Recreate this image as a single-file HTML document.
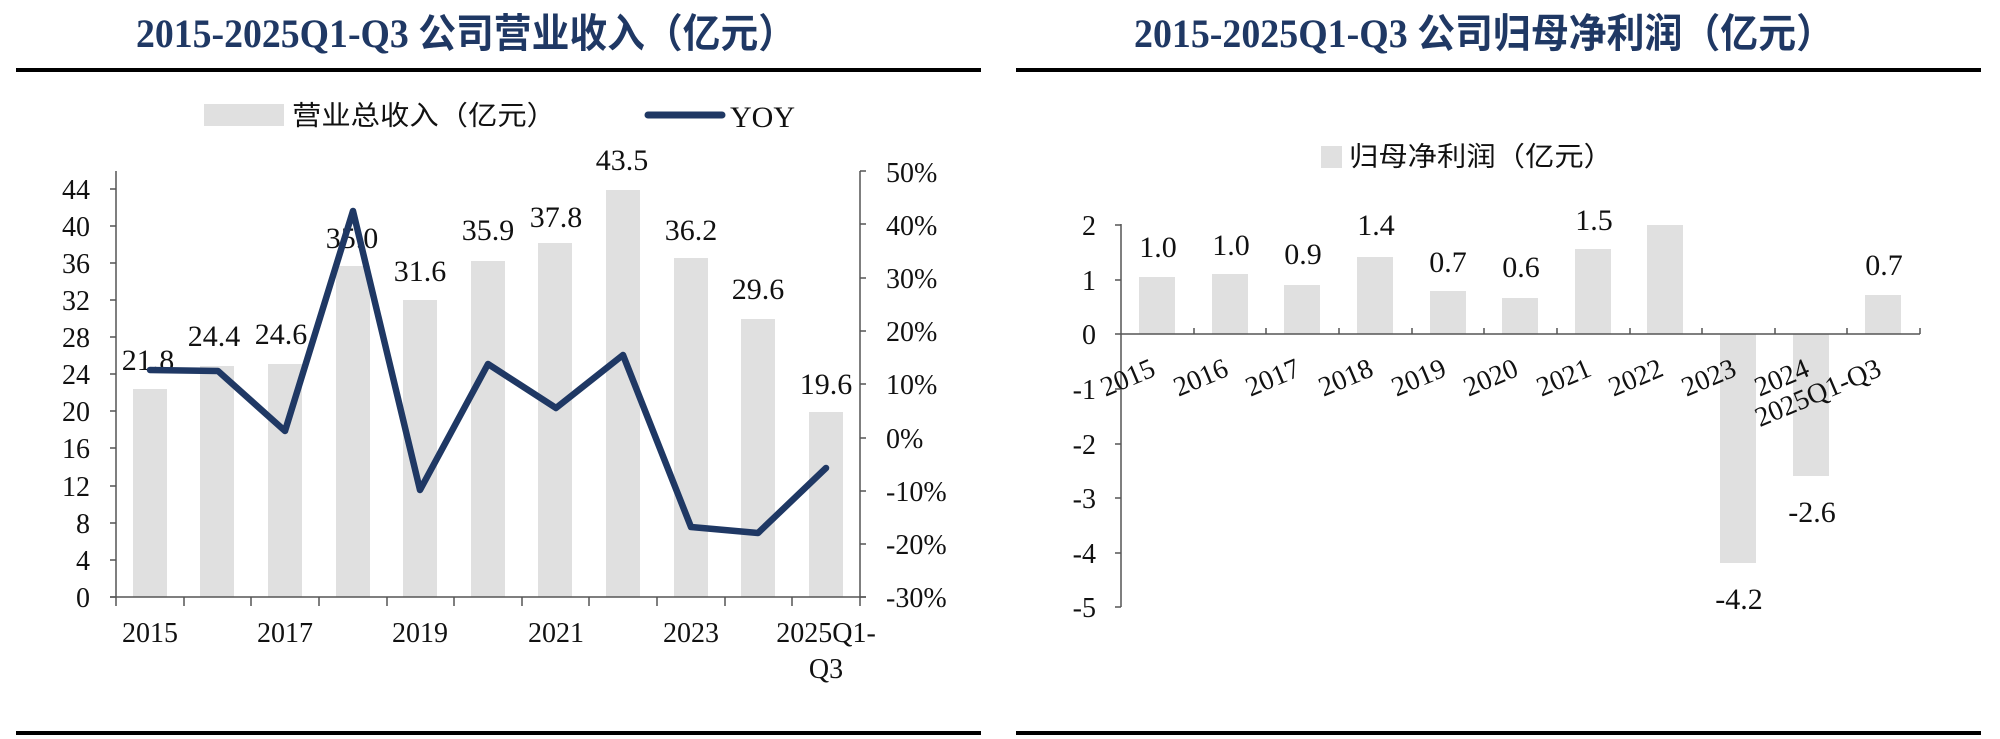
<!DOCTYPE html>
<html><head><meta charset="utf-8"><style>
html,body{margin:0;padding:0;background:#fff;}
svg{display:block;}
text{font-family:"Liberation Serif","Noto Serif CJK SC",serif;fill:#111;}
.t{font-weight:bold;fill:#1f3864;font-size:40px;}
.cj{font-family:"Liberation Serif","Noto Sans CJK SC",sans-serif;}
</style></head><body>
<svg width="2000" height="739" viewBox="0 0 2000 739" xmlns="http://www.w3.org/2000/svg">
<!-- Left chart -->
<text class="t" x="466" y="47" text-anchor="middle" textLength="660" lengthAdjust="spacingAndGlyphs">2015-2025Q1-Q3 <tspan class="cj">公司营业收入（亿元）</tspan></text>
<rect x="16" y="68" width="965" height="4" fill="#000"/>
<rect x="16" y="731" width="965" height="4" fill="#000"/>
<!-- legend -->
<rect x="204" y="104" width="80" height="22" fill="#e0e0e0"/>
<text class="cj" x="292" y="125" font-size="27" textLength="264" lengthAdjust="spacingAndGlyphs">营业总收入（亿元）</text>
<line x1="648" y1="115" x2="722" y2="115" stroke="#1f3864" stroke-width="7" stroke-linecap="round"/>
<text x="730" y="127" font-size="30">YOY</text>
<!-- bars -->
<g fill="#e0e0e0">
<rect x="133" y="389" width="34" height="208"/>
<rect x="200" y="366" width="34" height="231"/>
<rect x="268" y="364" width="34" height="233"/>
<rect x="336" y="266" width="34" height="331"/>
<rect x="403" y="300" width="34" height="297"/>
<rect x="471" y="261" width="34" height="336"/>
<rect x="538" y="243" width="34" height="354"/>
<rect x="606" y="190" width="34" height="407"/>
<rect x="674" y="258" width="34" height="339"/>
<rect x="741" y="319" width="34" height="278"/>
<rect x="809" y="412" width="34" height="185"/>
</g>
<!-- axes -->
<g stroke="#555" stroke-width="1.5" fill="none">
<line x1="116" y1="171" x2="116" y2="597"/>
<line x1="860" y1="171" x2="860" y2="597"/>
<line x1="110" y1="597" x2="866" y2="597"/>
<path d="M110 597H116M110 560H116M110 523H116M110 486H116M110 448H116M110 411H116M110 374H116M110 337H116M110 300H116M110 263H116M110 226H116M110 189H116"/>
<path d="M860 171H866M860 224H866M860 278H866M860 331H866M860 384H866M860 438H866M860 491H866M860 544H866M860 597H866"/>
<path d="M116 597V606M184 597V606M251 597V606M319 597V606M387 597V606M454 597V606M522 597V606M589 597V606M657 597V606M725 597V606M792 597V606M860 597V606"/>
</g>
<g font-size="28" text-anchor="end">
<text x="90" y="607">0</text><text x="90" y="570">4</text><text x="90" y="533">8</text><text x="90" y="496">12</text><text x="90" y="458">16</text><text x="90" y="421">20</text><text x="90" y="384">24</text><text x="90" y="347">28</text><text x="90" y="310">32</text><text x="90" y="273">36</text><text x="90" y="236">40</text><text x="90" y="199">44</text>
</g>
<g font-size="28">
<text x="886" y="182">50%</text><text x="886" y="235">40%</text><text x="886" y="288">30%</text><text x="886" y="341">20%</text><text x="886" y="394">10%</text><text x="886" y="448">0%</text><text x="886" y="501">-10%</text><text x="886" y="554">-20%</text><text x="886" y="607">-30%</text>
</g>
<g font-size="28" text-anchor="middle">
<text x="150" y="642">2015</text><text x="285" y="642">2017</text><text x="420" y="642">2019</text><text x="556" y="642">2021</text><text x="691" y="642">2023</text><text x="826" y="642">2025Q1-</text><text x="826" y="678">Q3</text>
</g>
<g font-size="30" text-anchor="middle">
<text x="148" y="370">21.8</text><text x="214" y="346">24.4</text><text x="281" y="344">24.6</text><text x="352" y="248">35.0</text><text x="420" y="281">31.6</text><text x="488" y="240">35.9</text><text x="556" y="227">37.8</text><text x="622" y="170">43.5</text><text x="691" y="240">36.2</text><text x="758" y="299">29.6</text><text x="826" y="394">19.6</text>
</g>
<polyline points="150,370 218,371 285,431 353,211 420,490 488,364 556,408 623,355 691,527 758,533 826,468" fill="none" stroke="#1f3864" stroke-width="6.5" stroke-linejoin="round" stroke-linecap="round"/>

<!-- Right chart -->
<text class="t" x="1484" y="47" text-anchor="middle" textLength="700" lengthAdjust="spacingAndGlyphs">2015-2025Q1-Q3 <tspan class="cj">公司归母净利润（亿元）</tspan></text>
<rect x="1016" y="68" width="965" height="4" fill="#000"/>
<rect x="1016" y="731" width="965" height="4" fill="#000"/>
<rect x="1321" y="146" width="21" height="22" fill="#e0e0e0"/>
<text class="cj" x="1349" y="166" font-size="27" textLength="264" lengthAdjust="spacingAndGlyphs">归母净利润（亿元）</text>
<g fill="#e0e0e0">
<rect x="1139" y="277" width="36" height="57"/>
<rect x="1212" y="274" width="36" height="60"/>
<rect x="1284" y="285" width="36" height="49"/>
<rect x="1357" y="257" width="36" height="77"/>
<rect x="1430" y="291" width="36" height="43"/>
<rect x="1502" y="298" width="36" height="36"/>
<rect x="1575" y="249" width="36" height="85"/>
<rect x="1647" y="225" width="36" height="109"/>
<rect x="1720" y="334" width="36" height="229"/>
<rect x="1793" y="334" width="36" height="142"/>
<rect x="1865" y="295" width="36" height="39"/>
</g>
<g stroke="#555" stroke-width="1.5" fill="none">
<line x1="1121" y1="224" x2="1121" y2="607"/>
<line x1="1121" y1="334" x2="1920" y2="334"/>
<path d="M1115 225H1121M1115 280H1121M1115 334H1121M1115 389H1121M1115 444H1121M1115 498H1121M1115 553H1121M1115 607H1121"/>
<path d="M1194 334V328M1266 334V328M1339 334V328M1412 334V328M1484 334V328M1557 334V328M1630 334V328M1702 334V328M1775 334V328M1847 334V328M1920 334V328"/>
</g>
<g font-size="28" text-anchor="end">
<text x="1096" y="235">2</text><text x="1096" y="290">1</text><text x="1096" y="344">0</text><text x="1096" y="399">-1</text><text x="1096" y="454">-2</text><text x="1096" y="508">-3</text><text x="1096" y="563">-4</text><text x="1096" y="617">-5</text>
</g>
<g font-size="28" text-anchor="end">
<text transform="translate(1157,375) rotate(-23)">2015</text>
<text transform="translate(1230,375) rotate(-23)">2016</text>
<text transform="translate(1302,375) rotate(-23)">2017</text>
<text transform="translate(1375,375) rotate(-23)">2018</text>
<text transform="translate(1448,375) rotate(-23)">2019</text>
<text transform="translate(1520,375) rotate(-23)">2020</text>
<text transform="translate(1593,375) rotate(-23)">2021</text>
<text transform="translate(1665,375) rotate(-23)">2022</text>
<text transform="translate(1738,375) rotate(-23)">2023</text>
<text transform="translate(1811,375) rotate(-23)">2024</text>
<text transform="translate(1883,375) rotate(-23)">2025Q1-Q3</text>
</g>
<g font-size="30" text-anchor="middle">
<text x="1158" y="257">1.0</text><text x="1231" y="255">1.0</text><text x="1303" y="264">0.9</text><text x="1376" y="235">1.4</text><text x="1448" y="272">0.7</text><text x="1521" y="277">0.6</text><text x="1594" y="230">1.5</text><text x="1739" y="609">-4.2</text><text x="1812" y="522">-2.6</text><text x="1884" y="275">0.7</text>
</g>
</svg>
</body></html>
